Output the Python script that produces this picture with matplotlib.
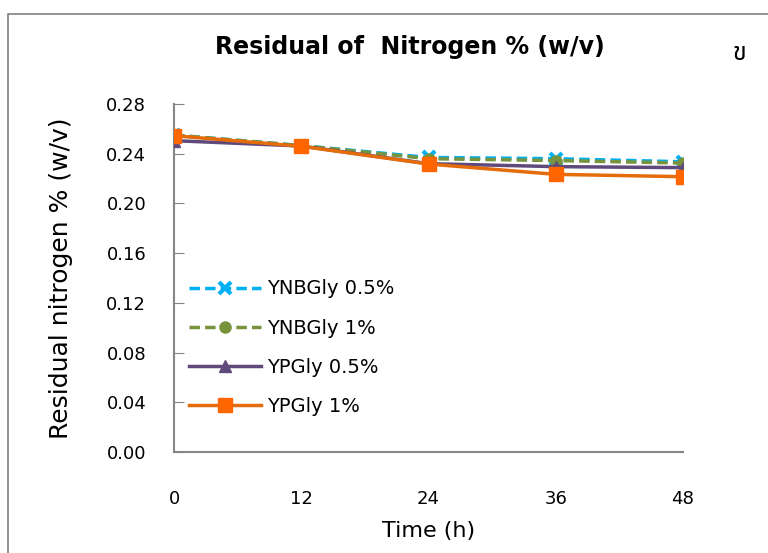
import matplotlib
matplotlib.use("Agg")
import matplotlib.pyplot as plt
from matplotlib.patches import Rectangle

time_h = [0, 12, 24, 36, 48]
ynbgly_05 = [0.255, 0.2465, 0.237, 0.236, 0.2335]
ynbgly_1 = [0.255, 0.2465, 0.236, 0.2345, 0.2325]
ypgly_05 = [0.2505, 0.2462, 0.232, 0.2296, 0.2288]
ypgly_1 = [0.2545, 0.246, 0.2317, 0.2234, 0.2215]
y_ticks = [0.00, 0.04, 0.08, 0.12, 0.16, 0.20, 0.24, 0.28]

plt.rcParams['font.family'] = ['DejaVu Sans']

fig = plt.figure(figsize=(7.68, 5.53), dpi=100)
ax = fig.add_axes([174/768, 1-452/553, (683-174)/768, (452-104)/553])

fig.patches.append(Rectangle((8/768, -0.1), 1.2, 1.1-14/553, transform=fig.transFigure,
                             fill=False, edgecolor='#808080', linewidth=1.2, clip_on=False))

ax.plot(time_h, ynbgly_05, color='#00B0F0', ls=(0, (3, 1.5)), lw=2.5, marker='x',
        ms=8, mew=3, label='YNBGly 0.5%', zorder=3)
ax.plot(time_h, ynbgly_1, color='#77933C', ls=(0, (3, 1.5)), lw=2.5, marker='o',
        ms=8, label='YNBGly 1%', zorder=3)
ax.plot(time_h, ypgly_05, color='#604A7B', ls='-', lw=2.5, marker='^',
        ms=8, label='YPGly 0.5%', zorder=4)
ax.plot(time_h, ypgly_1, color='#E46C0A', ls='-', lw=2.5, marker='s', mfc='#FF6600',
        mec='#FF6600', ms=10, label='YPGly 1%', zorder=5)

ax.set_xlim(0, 48)
ax.set_ylim(0, 0.28)
ax.set_xticks(time_h)
ax.set_yticks(y_ticks)
ax.set_yticklabels([f"{v:.2f}" for v in y_ticks])
ax.tick_params(axis='y', direction='in', length=7, color='#868686', labelsize=13, pad=20)
ax.tick_params(axis='x', length=0, labelsize=13, pad=27)
for s in ['top', 'right']:
    ax.spines[s].set_visible(False)
ax.spines['left'].set_color('#868686')
ax.spines['bottom'].set_color('#868686')
ax.spines['left'].set_linewidth(1.5)
ax.spines['bottom'].set_linewidth(1.5)

ax.set_xlabel('Time (h)', fontsize=16, labelpad=10)
ax.set_ylabel('Residual nitrogen % (w/v)', fontsize=18, labelpad=24)
fig.text(410/768, 1-47/553, 'Residual of  Nitrogen % (w/v)', fontsize=17,
         fontweight='bold', ha='center', va='center')
fig.text(740/768, 1-53/553, 'ข', fontsize=18, ha='center', va='center',
         family=['Noto Sans Thai', 'Loma', 'Garuda', 'Noto Sans', 'DejaVu Sans'])

ax.legend(loc='upper left', bbox_to_anchor=(-0.004, 0.546), frameon=False, fontsize=14,
          handlelength=3.7, labelspacing=1.04, handletextpad=0.3)

fig.savefig('out.png', dpi=100)
